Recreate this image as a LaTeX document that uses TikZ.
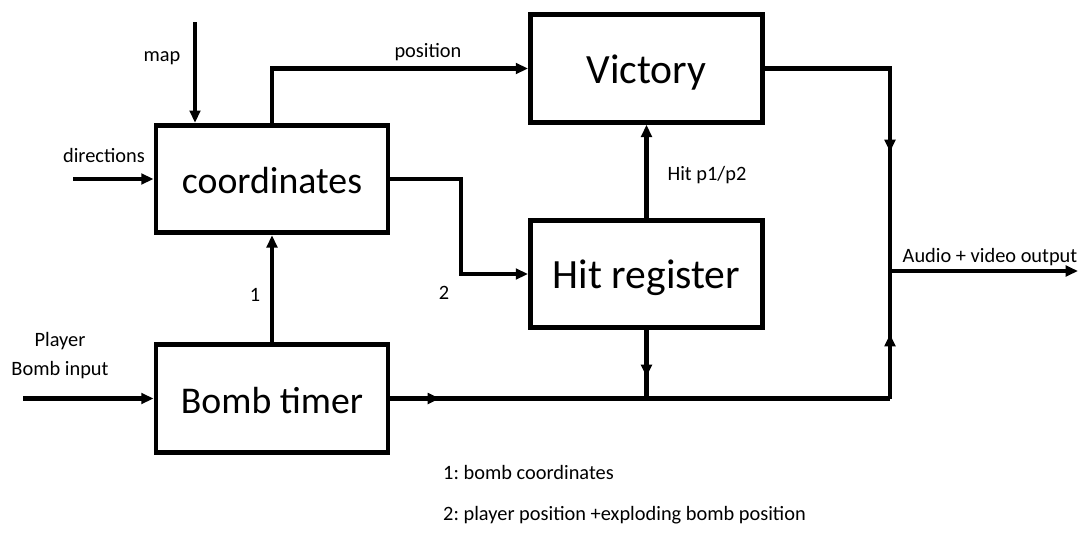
\documentclass[tikz,border=0pt]{standalone}
\usepackage{fontspec}
\setmainfont{Carlito}
\usetikzlibrary{arrows.meta}
\definecolor{black}{RGB}{0,0,0}
\frenchspacing

\begin{document}
\begin{tikzpicture}[x=0.02cm,y=-0.02cm,
	block/.style={rectangle,draw=black,line width=2.8pt,minimum width=4.64cm,minimum height=2.15cm,text height=19pt,text depth=2pt,font=\fontsize{21.5}{24}\selectfont},
	bigblock/.style={block,font=\fontsize{23.7}{26}\selectfont},
	wire/.style={black,line width=2.3pt},
	arr/.style={wire,-{Triangle[length=7pt,width=6pt]}},
	lbl/.style={font=\fontsize{11.6}{16.5}\selectfont}]
	\useasboundingbox (0,0) rectangle (1092,538);
	\node[block] (coord) at (272,179) {coordinates};
	\node[bigblock] (victory) at (646.5,68.5) {Victory};
	\node[bigblock] (hit) at (646.5,274) {Hit register};
	\node[block] (bomb) at (272,398.5) {Bomb timer};
	
	\coordinate (mapin) at (195,22);
	\coordinate (dirin) at (73,179);
	\coordinate (bombin) at (23,398.5);
	\coordinate (turn) at (461,0);
	\coordinate (join) at (890,271);
	\coordinate (output) at (1078,271);
	\coordinate (bus) at (890,398.5);
	
	\draw[arr] (mapin) -- (mapin |- coord.north);
	\draw[arr] (dirin) -- (coord.west);
	\draw[arr] (bombin) -- (bomb.west);
	\draw[arr] (coord.north) |- (victory.west);
	\draw[arr] (coord.east) -| (turn |- hit.west) -- (hit.west);
	\draw[arr] (bomb.north) -- (coord.south);
	\draw[arr] (hit.north) -- (victory.south);
	
	% outputs to the right
	\draw[arr] (victory.east) -| (890,152);
	\draw[wire] (890,140) -- (join);
	\draw[arr] (join) -- (output);
	\draw[arr] (bomb.east) -- (440,398.5);
	\draw[wire] (430,398.5) -- (bus);
	\draw[arr] (bus) -- (890,334);
	\draw[wire] (890,345) -- (join);
	\draw[arr] (hit.south) -- (hit.south |- 0,377);
	\draw[wire] (hit.south |- 0,370) -- (hit.south |- bus);
	
	\node[lbl] (maplbl) at (162,58) {map};
	\node[lbl] (dirlbl) at (104,155) {directions};
	\node[lbl] (poslbl) at (428,52) {position};
	\node[lbl] (one) at (255,295) {1};
	\node[lbl] (two) at (444,293) {2};
	\node[lbl,align=center] (inlbl) at (60,356) {Player\\Bomb input};
	\node[lbl] (hitlbl) at (707,175) {Hit p1/p2};
	\node[lbl] (outlbl) at (990,257) {Audio + video output};
	\node[lbl,anchor=west] (note1) at (437,472) {1: bomb coordinates};
	\node[lbl,anchor=west] (note2) at (437,515) {2: player position +exploding bomb position};
\end{tikzpicture}
\end{document}
